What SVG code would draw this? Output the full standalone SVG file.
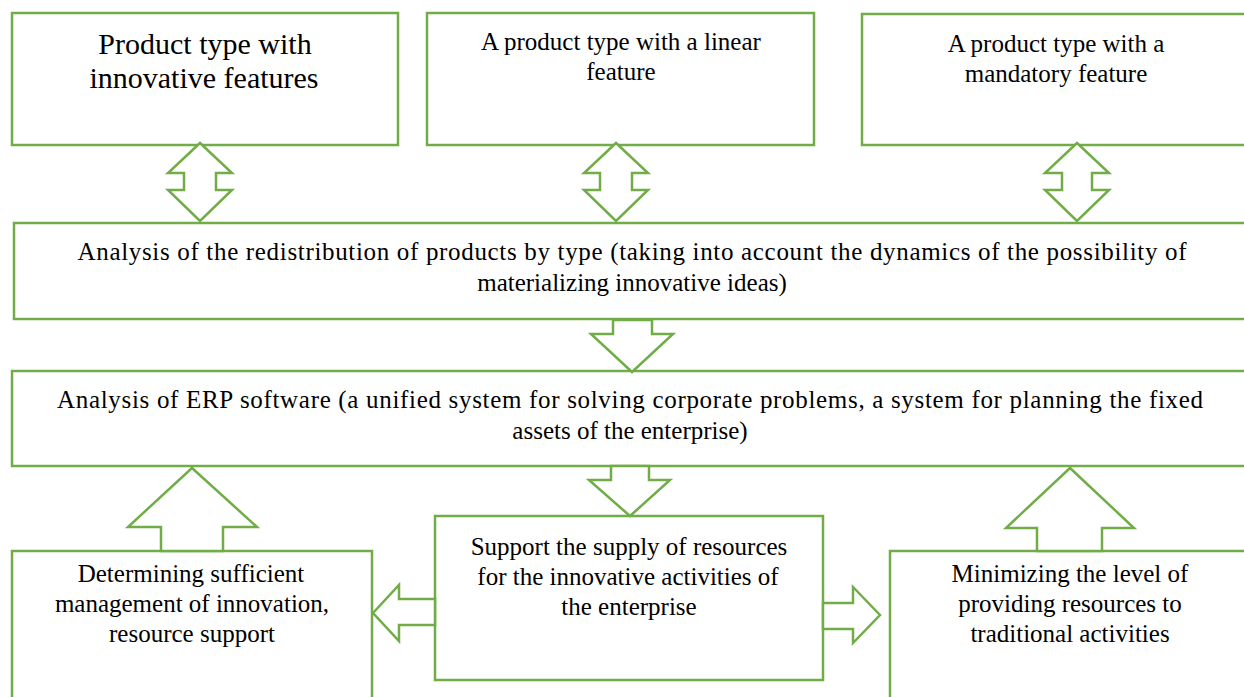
<svg xmlns="http://www.w3.org/2000/svg" width="1244" height="697" viewBox="0 0 1244 697">
<style>
.box{fill:#fff;stroke:#70AD47;stroke-width:2.5}
.arr{fill:#fff;stroke:#70AD47;stroke-width:2.5;stroke-linejoin:miter}
text{font-family:'Liberation Serif','Times New Roman',serif;font-size:25px;fill:#000;text-anchor:middle}
.big{font-size:30px}
</style>
<rect width="1244" height="697" fill="#fff"/>
<g id="n1"><rect class="box" x="12" y="13" width="386" height="132"/>
<text class="big" x="205" y="54">Product type with</text>
<text class="big" x="204" y="88">innovative features</text></g>
<g id="n2"><rect class="box" x="427" y="13" width="387" height="132"/>
<text x="621" y="50">A product type with a linear</text>
<text x="621" y="80">feature</text></g>
<g id="n3"><rect class="box" x="862" y="14" width="390" height="131"/>
<text x="1056" y="52">A product type with a</text>
<text x="1056" y="82">mandatory feature</text></g>
<g id="n4"><rect class="box" x="14" y="223" width="1240" height="96"/>
<text x="632" y="260" textLength="1109">Analysis of the redistribution of products by type (taking into account the dynamics of the possibility of</text>
<text x="632" y="291">materializing innovative ideas)</text></g>
<g id="n5"><rect class="box" x="12" y="371" width="1242" height="95"/>
<text x="630" y="408" textLength="1146">Analysis of ERP software (a unified system for solving corporate problems, a system for planning the fixed</text>
<text x="630" y="439">assets of the enterprise)</text></g>
<g id="n6"><rect class="box" x="435" y="516" width="388" height="164"/>
<text x="629" y="555">Support the supply of resources</text>
<text x="628" y="585">for the innovative activities of</text>
<text x="629" y="615">the enterprise</text></g>
<g id="n7"><rect class="box" x="12" y="551" width="360" height="160"/>
<text x="191" y="582">Determining sufficient</text>
<text x="192" y="612">management of innovation,</text>
<text x="192" y="642">resource support</text></g>
<g id="n8"><rect class="box" x="890" y="551" width="364" height="160"/>
<text x="1070" y="582">Minimizing the level of</text>
<text x="1070" y="612">providing resources to</text>
<text x="1070" y="642">traditional activities</text></g>
<g id="connectors">
<polygon class="arr" points="200,143 232,173 216,173 216,190 232,190 200,221 168,190 184,190 184,173 168,173"/>
<polygon class="arr" points="616,143 648,173 632,173 632,190 648,190 616,221 584,190 600,190 600,173 584,173"/>
<polygon class="arr" points="1077,143 1109,173 1092,173 1092,190 1109,190 1077,221 1045,190 1062,190 1062,173 1045,173"/>
<polygon class="arr" points="613,320 652,320 652,334 673,334 632,372 591,334 613,334"/>
<polygon class="arr" points="611,466 649,466 649,480 670,480 630,516 589,480 611,480"/>
<polygon class="arr" points="192,468 257,527 223,527 223,551 161,551 161,527 128,527"/>
<polygon class="arr" points="1070,468 1134,528 1102,528 1102,551 1037,551 1037,528 1006,528"/>
<polygon class="arr" points="373,613 399,585 399,599 435,599 435,625 399,625 399,641"/>
<polygon class="arr" points="880,615 853,587 853,603 823,603 823,629 853,629 853,643"/>
</g>
</svg>
